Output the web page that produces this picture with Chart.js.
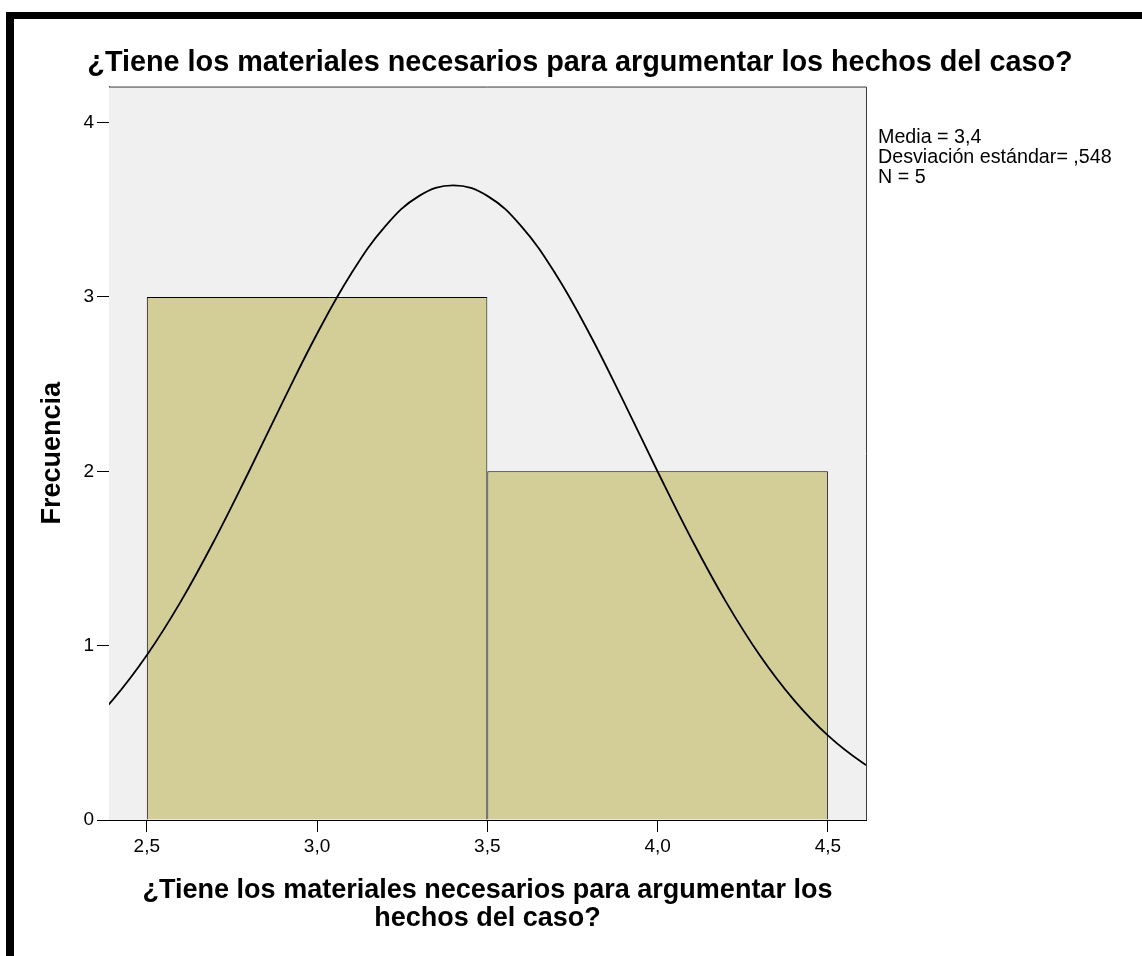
<!DOCTYPE html>
<html>
<head>
<meta charset="utf-8">
<script src="https://cdn.jsdelivr.net/npm/chart.js@4"></script>
<style>
  html, body { margin: 0; padding: 0; background: #fff; }
  #wrap { position: relative; width: 1142px; height: 956px; overflow: hidden; }
  #frame { position: absolute; left: 6px; top: 12px; width: 1136px; height: 944px;
           border-top: 7px solid #000; border-left: 8px solid #000; box-sizing: border-box; pointer-events: none; }
  canvas { position: absolute; left: 0; top: 0; }
</style>
</head>
<body>
<div id="wrap">
  <canvas id="c" width="1142" height="956"></canvas>
  <div id="frame"></div>
</div>
<script>
// ---- data ----
const chartTitle = '¿Tiene los materiales necesarios para argumentar los hechos del caso?';
const xTitleLines = ['¿Tiene los materiales necesarios para argumentar los', 'hechos del caso?'];
const yTitle = 'Frecuencia';
const binCenters = [3.0, 4.0];
const binCounts = [3, 2];
const curveX = [2.3, 2.4, 2.5, 2.6, 2.7, 2.8, 2.9, 3.0, 3.1, 3.2, 3.3, 3.4, 3.5, 3.6, 3.7, 3.8, 3.9, 4.0, 4.1, 4.2, 4.3, 4.4, 4.5, 4.6, 4.7];
const curveY = [0.485, 0.689, 0.945, 1.254, 1.610, 1.999, 2.401, 2.789, 3.133, 3.405, 3.580, 3.640, 3.580, 3.405, 3.133, 2.789, 2.401, 1.999, 1.610, 1.254, 0.945, 0.689, 0.485, 0.331, 0.218];
const xTickValues = [2.5, 3.0, 3.5, 4.0, 4.5];
const xTickLabels = ['2,5', '3,0', '3,5', '4,0', '4,5'];
const yTickValues = [0, 1, 2, 3, 4];
const yTickLabels = ['0', '1', '2', '3', '4'];
const statsLines = ['Media = 3,4', 'Desviación estándar= ,548', 'N = 5'];
const xMin = 2.389, xMax = 4.612, yMin = 0, yMax = 4.207;

const FONT = '"Liberation Sans", Arial, sans-serif';

const plotBg = {
  id: 'plotBg',
  beforeDatasetsDraw(chart) {
    const {ctx, chartArea: a} = chart;
    ctx.save();
    ctx.fillStyle = '#f0f0f0';
    ctx.fillRect(a.left, a.top, a.right - a.left, a.bottom - a.top);
    ctx.restore();
  },
  afterDraw(chart) {
    const {ctx, chartArea: a} = chart;
    ctx.save();
    ctx.strokeStyle = '#3c3c3c';
    ctx.lineWidth = 1;
    ctx.beginPath();
    ctx.moveTo(a.left, a.top + 0.5);
    ctx.lineTo(a.right + 0.5, a.top + 0.5);
    ctx.lineTo(a.right + 0.5, a.bottom);
    ctx.stroke();
    // stats text
    ctx.fillStyle = '#000';
    ctx.font = '19.7px ' + FONT;
    ctx.textBaseline = 'middle';
    ctx.textAlign = 'left';
    statsLines.forEach((t, i) => ctx.fillText(t, a.right + 12, 138 + i * 20));
    ctx.restore();
  }
};

new Chart(document.getElementById('c'), {
  data: {
    datasets: [
      {
        type: 'line',
        data: curveX.map((x, i) => ({x: x, y: curveY[i]})),
        borderColor: '#000',
        borderWidth: 1.8,
        pointRadius: 0,
        tension: 0.4,
        fill: false,
        order: 0
      },
      {
        type: 'bar',
        data: binCenters.map((x, i) => ({x: x, y: binCounts[i]})),
        backgroundColor: '#d3ce97',
        borderColor: '#000',
        borderWidth: 1,
        // tick spacing (0.5) is half the bin width (1.0), so bars span twice the ruler
        barPercentage: 2,
        categoryPercentage: 1,
        order: 1
      }
    ]
  },
  options: {
    responsive: false,
    animation: false,
    events: [],
    layout: { padding: { left: 18, right: 0, top: 0, bottom: 0 } },
    plugins: {
      legend: { display: false },
      tooltip: { enabled: false },
      title: {
        display: true,
        text: chartTitle,
        color: '#000',
        font: { family: FONT, size: 28.8, weight: 'bold', lineHeight: 1.2 },
        padding: { top: 46, bottom: 6 }
      }
    },
    scales: {
      x: {
        type: 'linear',
        position: 'bottom',
        offset: false,
        min: xMin, max: xMax,
        afterBuildTicks(s) { s.ticks = xTickValues.map(v => ({value: v})); },
        afterFit(s) { s.height = 136; },
        ticks: {
          color: '#000',
          font: { family: FONT, size: 19 },
          padding: 3,
          maxRotation: 0,
          autoSkip: false,
          callback: (v, i) => xTickLabels[i]
        },
        grid: { offset: false, drawOnChartArea: false, drawTicks: true, tickLength: 12, color: '#000', lineWidth: 1 },
        border: { display: true, color: '#000', width: 1 },
        title: {
          display: true,
          text: xTitleLines,
          color: '#000',
          font: { family: FONT, size: 27, weight: 'bold', lineHeight: 1.04 },
          padding: { top: 0, bottom: 23 }
        }
      },
      y: {
        type: 'linear',
        position: 'left',
        min: yMin, max: yMax,
        afterBuildTicks(s) { s.ticks = yTickValues.map(v => ({value: v})); },
        afterFit(s) { s.width = 91; },
        ticks: {
          color: '#000',
          font: { family: FONT, size: 19 },
          padding: 3,
          callback: (v, i) => yTickLabels[i]
        },
        grid: { drawOnChartArea: false, drawTicks: true, tickLength: 12, color: '#000', lineWidth: 1 },
        border: { display: true, color: '#000', width: 1 },
        title: {
          display: true,
          text: yTitle,
          color: '#000',
          font: { family: FONT, size: 27, weight: 'bold', lineHeight: 1.2 },
          padding: { top: 18, bottom: 0 }
        }
      },
      yRight: {
        type: 'linear',
        position: 'right',
        display: true,
        min: 0, max: 1,
        afterFit(s) { s.width = 276; },
        ticks: { display: false },
        grid: { display: false, drawTicks: false },
        border: { display: false }
      }
    }
  },
  plugins: [plotBg]
});
</script>
</body>
</html>
